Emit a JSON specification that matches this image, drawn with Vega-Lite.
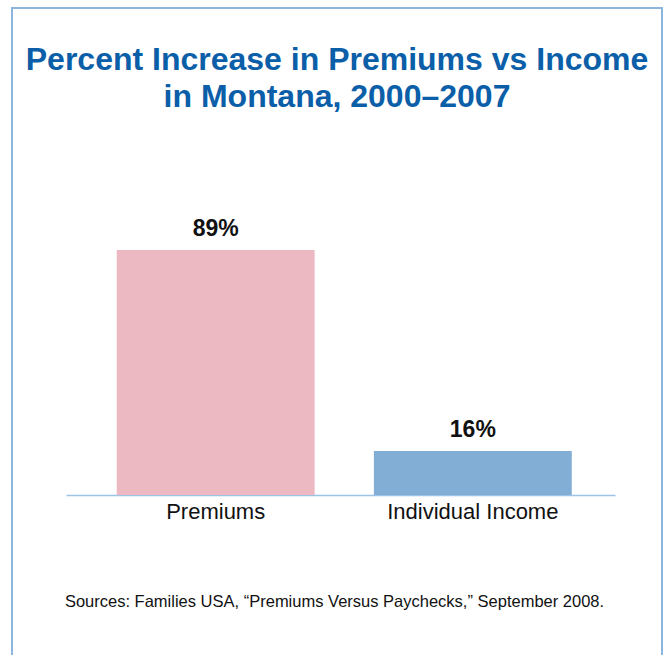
{
  "$schema": "https://vega.github.io/schema/vega-lite/v6.json",
  "autosize": "none",
  "padding": {"left": 12, "top": 8, "right": 5, "bottom": 0},
  "width": 650,
  "height": 660,
  "background": "white",
  "config": {"view": {"stroke": "#8db6df", "strokeWidth": 2}},
  "title": {
    "text": ["Percent Increase in Premiums vs Income", "in Montana, 2000–2007"],
    "font": "Liberation Sans",
    "fontSize": 32,
    "fontWeight": "bold",
    "color": "#0b5ea8",
    "lineHeight": 37,
    "anchor": "middle",
    "offset": -106,
    "baseline": "top"
  },
  "data": {"values": [
    {"category": "Premiums", "value": 0.89},
    {"category": "Individual Income", "value": 0.16}
  ]},
  "encoding": {
    "x": {
      "field": "category", "type": "nominal", "sort": null,
      "scale": {"range": [54, 603], "paddingInner": 0.2305, "paddingOuter": 0.1827, "align": 0.54},
      "axis": {
        "orient": "bottom", "offset": -173,
        "title": "Sources: Families USA, “Premiums Versus Paychecks,” September 2008.",
        "titleFont": "Liberation Sans", "titleFontSize": 16.5, "titleFontWeight": "normal",
        "titleColor": "#111111", "titlePadding": 71, "titleX": 322, "titleAlign": "center",
        "labelFont": "Liberation Sans", "labelFontSize": 22, "labelColor": "#111111",
        "labelPadding": 6, "labelAngle": 0, "ticks": false,
        "domainColor": "#9dc3e6", "domainWidth": 1.5, "grid": false
      }
    },
    "y": {
      "field": "value", "type": "quantitative",
      "scale": {"domain": [0, 1], "range": [487, 211.7], "nice": false, "zero": true},
      "axis": null
    }
  },
  "layer": [
    {
      "mark": {"type": "bar"},
      "encoding": {
        "color": {
          "field": "category", "type": "nominal",
          "scale": {"domain": ["Premiums", "Individual Income"], "range": ["#ecb8c2", "#82aed6"]},
          "legend": null
        }
      }
    },
    {
      "mark": {"type": "text", "baseline": "alphabetic", "dy": -14, "fontSize": 23, "fontWeight": "bold", "font": "Liberation Sans", "color": "#111111"},
      "encoding": {"text": {"field": "value", "type": "quantitative", "format": ".0%"}}
    }
  ]
}
